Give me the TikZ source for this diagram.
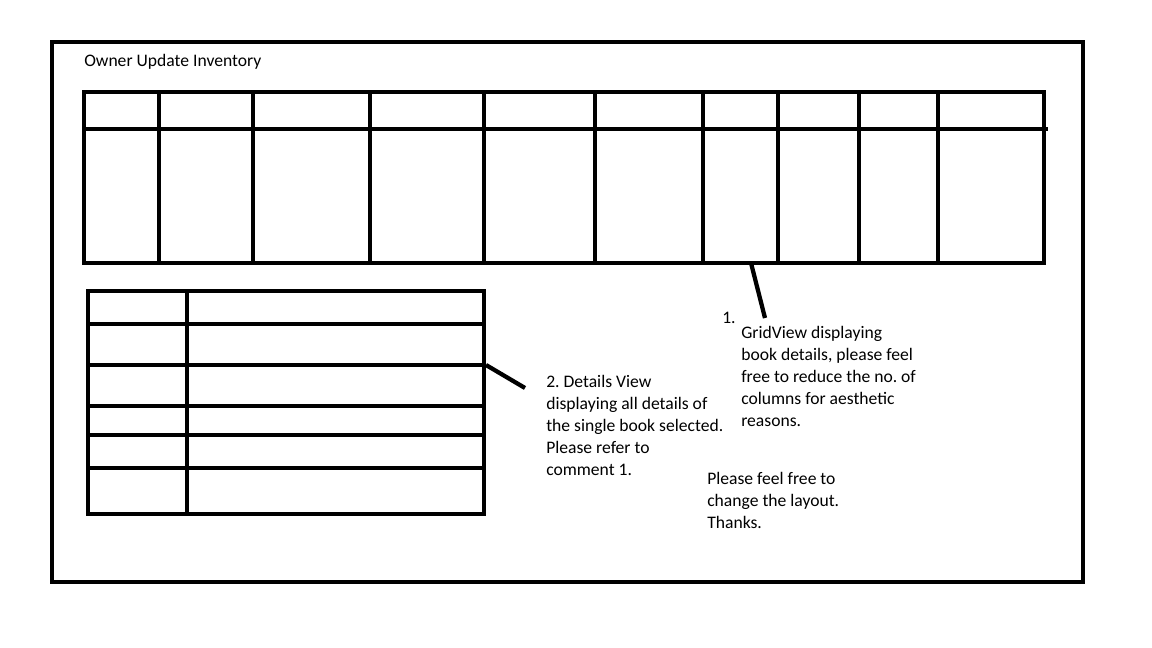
\documentclass[tikz,border=0pt]{standalone}
\usepackage{fontspec}
\setmainfont{Carlito}
\usepackage{tikz}
\usetikzlibrary{positioning}
\frenchspacing

\begin{document}
\begin{tikzpicture}[
  x=0.75pt, y=-0.75pt,
  frame/.style={draw, line width=3.2pt},
  gridline/.style={line width=3.2pt},
  lead/.style={line width=3.2pt},
  note/.style={font=\fontsize{13.2}{16.5}\selectfont, align=left,
               anchor=north west, inner sep=0pt}
]
\useasboundingbox (0,0) rectangle (1152,648);

% outer page
\draw[frame] (52,42) rectangle (1083,582);
\node[note] (title) at (84,54) {Owner Update Inventory};

% GridView
\draw[frame] (84,92) rectangle (1044,263);
\draw[gridline] (82,129) -- (1048,129);
\foreach \x in {159,253,370,484,595,703,778,859,938}
  \draw[gridline] (\x,92) -- (\x,263);

% DetailsView
\draw[frame] (88,291) rectangle (484,514);
\draw[gridline] (187,291) -- (187,514);
\foreach \y in {324,365,406,435,468}
  \draw[gridline] (86,\y) -- (484,\y);

% comments
\node[note] (gridnum) at (722,312) {1.};
\node[note] (gridnote) at (741,326)
  {GridView displaying\\book details, please feel\\free to reduce the no. of\\columns for aesthetic\\reasons.};
\node[note] (detailnote) at (546,375)
  {2. Details View\\displaying all details of\\the single book selected.\\Please refer to\\comment 1.};
\node[note] (layoutnote) at (707,472)
  {Please feel free to\\change the layout.\\Thanks.};

% leader lines
\coordinate (gridtip) at (751,263);
\coordinate (gridend) at (765,318);
\coordinate (detailtip) at (486,365);
\coordinate (detailend) at (525,388);
\draw[lead] (gridtip) -- (gridend);
\draw[lead] (detailtip) -- (detailend);

\end{tikzpicture}
\end{document}
